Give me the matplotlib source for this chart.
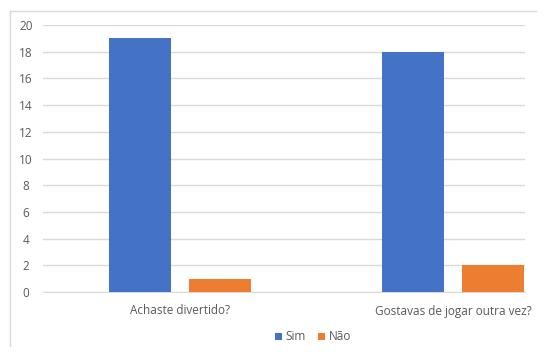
import matplotlib
matplotlib.use("Agg")
import matplotlib.pyplot as plt
from matplotlib.lines import Line2D
import numpy as np

categories = ["Achaste divertido?", "Gostavas de jogar outra vez?"]
sim = [19, 18]
nao = [1, 2]
series_names = ["Sim", "Não"]
yticks = [0, 2, 4, 6, 8, 10, 12, 14, 16, 18, 20]

plt.rcParams['font.family'] = ['Open Sans', 'DejaVu Sans']

W, H = 550, 362
fig = plt.figure(figsize=(W/100, H/100), dpi=100)
fig.patch.set_facecolor("white")

left, right, bottom, top = 43, 525, 292, 25
ax = fig.add_axes([left/W, 1-bottom/H, (right-left)/W, (bottom-top)/H])

x = np.arange(len(categories))
bw = 0.227
off = 0.145
ax.bar(x - off, sim, bw, color="#4472C4", label=series_names[0], zorder=3)
ax.bar(x + off, nao, bw, color="#ED7D31", label=series_names[1], zorder=3)

ax.set_ylim(0, 20)
ax.set_xlim(-137/273, 345/273)
ax.set_yticks(yticks)
ax.set_xticks(x)
ax.set_xticklabels(categories)
ax.tick_params(axis="both", length=0, colors="#595959", labelsize=8.5)
ax.tick_params(axis="x", pad=9)
ax.tick_params(axis="y", pad=12.2)
for lbl in ax.get_yticklabels():
    lbl.set_horizontalalignment("center")
ax.yaxis.grid(True, color="#D9D9D9", linewidth=1, zorder=0)
for s in ["top", "right", "left"]:
    ax.spines[s].set_visible(False)
ax.spines["bottom"].set_color("#D9D9D9")
ax.set_facecolor("white")

leg = fig.legend(loc="center", bbox_to_anchor=(313/W, 1-337/H), ncol=2, frameon=False,
                 fontsize=8.5, handlelength=0.6, handleheight=0.6, handletextpad=0.3,
                 columnspacing=1.0)
for t in leg.get_texts():
    t.set_color("#595959")

fig.add_artist(Line2D([10/W, 536/W], [1-11/H, 1-11/H], color="#D9D9D9", lw=1))
fig.add_artist(Line2D([10/W, 10/W], [1-11/H, 1-346/H], color="#D9D9D9", lw=1))

fig.savefig("out.png", dpi=100)
